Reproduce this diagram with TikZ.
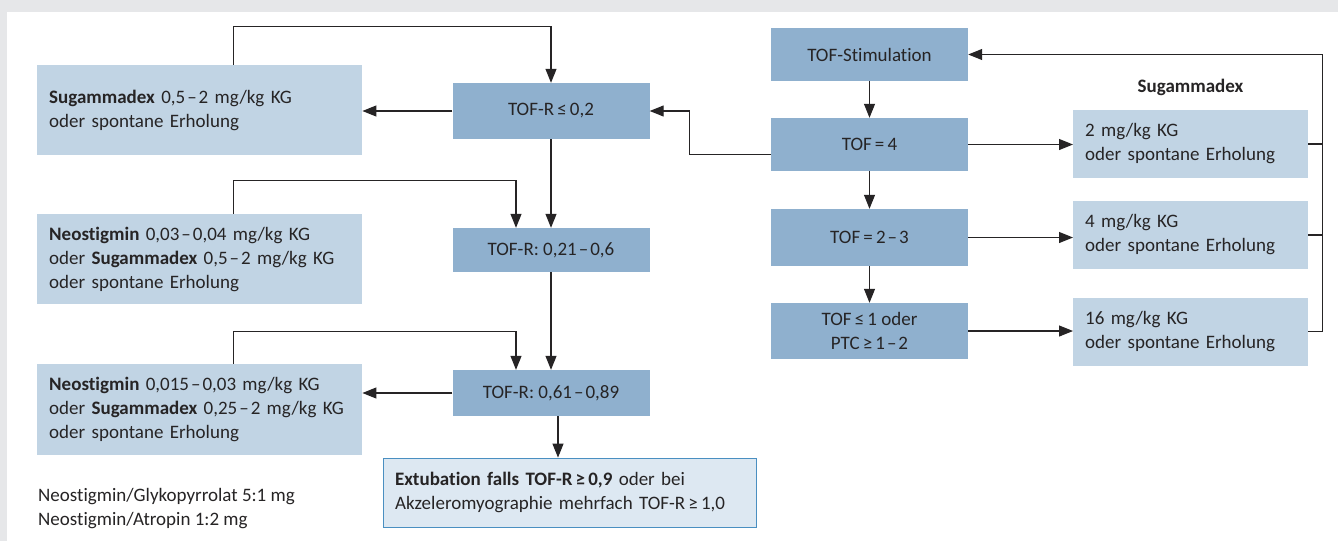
\documentclass[tikz,border=0pt]{standalone}
\usepackage{fontspec}
\setmainfont[Ligatures=NoCommon]{Carlito}
\usetikzlibrary{arrows.meta}
\definecolor{tofblue}{RGB}{143,176,206}
\definecolor{doseblue}{RGB}{193,212,228}
\definecolor{extblue}{RGB}{221,232,242}
\definecolor{extline}{RGB}{74,143,193}
\definecolor{pagegray}{RGB}{230,231,233}
\definecolor{ink}{RGB}{38,36,37}
\newcommand{\bis}{\kern2pt–\kern2pt}
\tikzset{tofbx/.style={fill=tofblue,align=center,minimum width=197pt,inner sep=0pt},
         dosebx/.style={fill=doseblue,align=left,inner xsep=12pt,inner ysep=0pt,anchor=west},
         extbx/.style={fill=extblue,draw=extline,line width=0.8pt,align=left,inner xsep=12pt,inner ysep=0pt},
         fl/.style={draw=ink,line width=1.1pt,-{Triangle[length=14pt,width=11pt]}}}

\begin{document}
\begin{tikzpicture}[x=1pt,y=-1pt,font=\fontsize{19}{24}\selectfont,text=ink]
  \useasboundingbox (0,0) rectangle (1338,541);
  \fill[pagegray] (0,0) rectangle (1338,541);
  \fill[white] (7,12) rectangle (1338,541);
  % TOF-R column
  \node[tofbx,minimum height=56pt] (r1) at (551,111) {TOF-R\,≤\,0,2};
  \node[tofbx,minimum height=44pt] (r2) at (551,250) {TOF-R: 0,21\bis0,6};
  \node[tofbx,minimum height=46pt] (r3) at (551,393) {TOF-R: 0,61\bis0,89};
  \node[dosebx,text width=301pt,minimum height=90pt] (s1) at (37,110)
    {\textbf{Sugammadex} 0,5\bis2 mg/kg KG\\oder spontane Erholung};
  \node[dosebx,text width=301pt,minimum height=90pt] (n1) at (37,259)
    {\textbf{Neostigmin} 0,03\bis0,04 mg/kg KG\\oder \textbf{Sugammadex} 0,5\bis2 mg/kg KG\\oder spontane Erholung};
  \node[dosebx,text width=301pt,minimum height=91pt] (n2) at (37,409.5)
    {\textbf{Neostigmin} 0,015\bis0,03 mg/kg KG\\oder \textbf{Sugammadex} 0,25\bis2 mg/kg KG\\oder spontane Erholung};
  \node[extbx,text width=349pt,minimum height=69pt] (ext) at (569.5,492.5)
    {\textbf{Extubation falls TOF-R\,≥\,0,9} oder bei\\Akzeleromyographie mehrfach TOF-R\,≥\,1,0};
  \node[anchor=west,align=left,inner sep=0pt] (fn) at (38,509)
    {Neostigmin/Glykopyrrolat 5:1 mg\\Neostigmin/Atropin 1:2 mg};
  % TOF column
  \node[tofbx,minimum height=53pt] (stim) at (869.5,54.5) {TOF-Stimulation};
  \node[tofbx,minimum height=53pt] (t4) at (869.5,144.5) {TOF\,=\,4};
  \node[tofbx,minimum height=57pt] (t23) at (869.5,237.5) {TOF\,=\,2\bis3};
  \node[tofbx,minimum height=56pt] (t1) at (869.5,331) {TOF\,≤\,1 oder\\PTC\,≥\,1\bis2};
  \node[font=\fontsize{19}{24}\selectfont\bfseries] (sgh) at (1190.5,87) {Sugammadex};
  \foreach \n/\y/\d in {1/144/2,2/235/4,3/331.5/16}
    \node[dosebx,text width=211pt,minimum height=68pt] (g\n) at (1073,\y) {\d\ mg/kg KG\\oder spontane Erholung};
  % connectors
  \draw[fl] (r1.west) -- (r1.west -| s1.east);
  \draw[fl] ([xshift=33.5pt]s1.north) -- ++(0,-38) -| (r1.north);
  \draw[fl] (r1.south) -- (r2.north);
  \draw[fl] ([xshift=33.5pt]n1.north) -- ++(0,-33) -| ([xshift=-35pt]r2.north);
  \draw[fl] (r2.south) -- (r3.north);
  \draw[fl] ([xshift=33.5pt]n2.north) -- ++(0,-32) -| ([xshift=-35pt]r3.north);
  \draw[fl] (r3.west) -- (r3.west -| n2.east);
  \draw[fl] ([xshift=7pt]r3.south) -- ([xshift=7pt]r3.south |- ext.north);
  \foreach \i/\j in {stim/t4,t4/t23,t23/t1} \draw[fl] (\i.south) -- (\j.north);
  \draw[fl] ([yshift=-10pt]t4.west) -- ++(-81,0) |- (r1.east);
  \foreach \i/\j in {t4/g1,t23/g2,t1/g3} \draw[fl] (\i.east) -- (\i.east -| \j.west);
  \foreach \n in {1,2} \draw[draw=ink,line width=1.1pt] (g\n.east) -- ++(14,0);
  \draw[fl] (g3.east) -- ++(14,0) |- (stim.east);
\end{tikzpicture}
\end{document}
